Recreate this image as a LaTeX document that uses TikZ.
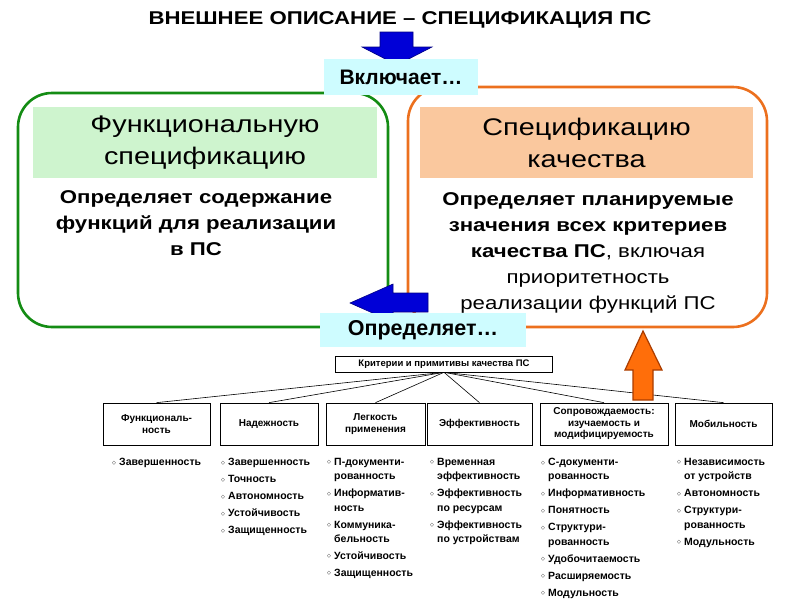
\documentclass[tikz,border=0pt]{standalone}
\usepackage{fontspec}
\setmainfont{Liberation Sans}
\newfontfamily\widefont{Liberation Sans}[FakeStretch=1.2]
\newfontfamily\symfont{DejaVu Sans}
\usetikzlibrary{positioning}

\definecolor{fgreen}{RGB}{20,140,20}
\definecolor{hgreen}{RGB}{206,244,206}
\definecolor{forange}{RGB}{236,112,30}
\definecolor{horange}{RGB}{250,200,158}
\definecolor{tagcyan}{RGB}{206,252,255}
\definecolor{arrblue}{RGB}{0,0,215}
\definecolor{arrblueline}{RGB}{0,0,130}
\definecolor{arrorange}{RGB}{255,110,10}
\definecolor{arrorangeline}{RGB}{170,60,0}

\tikzstyle{framebox} = [rectangle, rounded corners=34pt, line width=2.6pt, fill=white]
\tikzstyle{headbox}  = [rectangle, inner sep=0pt, align=center,
                        font=\widefont\fontsize{24}{32}\selectfont]
\tikzstyle{bodytext} = [align=center, inner sep=0pt, font=\widefont\fontsize{18.5}{26}\selectfont]
\tikzstyle{tagbox}   = [rectangle, fill=tagcyan, inner sep=0pt, font=\fontsize{21}{21}\selectfont\bfseries]
\tikzstyle{critbox}  = [rectangle, draw=black, line width=0.7pt, inner sep=0pt, align=center,
                        minimum height=42pt, font=\fontsize{10}{11.5}\selectfont\bfseries]
\tikzstyle{listcol}  = [anchor=north west, inner sep=0pt, align=left,
                        font=\fontsize{10.5}{14.3}\selectfont\bfseries]
\tikzstyle{link}     = [line width=0.6pt]

\newcommand{\bul}{\makebox[7pt][l]{\raisebox{1.5pt}{\symfont\fontsize{5}{5}\selectfont ◇}}}
\newcommand{\ind}{\hspace*{7pt}}

\begin{document}
\begin{tikzpicture}[x=1pt, y=-1pt]
    \useasboundingbox (0,0) rectangle (800,600);

    \node (title) [font=\widefont\fontsize{18.5}{18.5}\selectfont\bfseries] at (400,20) {ВНЕШНЕЕ ОПИСАНИЕ – СПЕЦИФИКАЦИЯ ПС};

    % two big frames
    \node (funcframe) [framebox, draw=fgreen, minimum width=370pt, minimum height=234pt] at (203,210) {};
    \node (qualframe) [framebox, draw=forange, minimum width=359pt, minimum height=240pt] at (587.5,207) {};

    \node (funchead) [headbox, fill=hgreen, minimum width=344pt, minimum height=71pt] at (205,142.5) {Функциональную\\спецификацию};
    \node (qualhead) [headbox, fill=horange, minimum width=333pt, minimum height=71pt] at (586.5,142.5) {Спецификацию\\качества};

    \node (functext) [bodytext, anchor=north] at (196,190) {\textbf{Определяет содержание}\\\textbf{функций для реализации}\\\textbf{в ПС}};
    \node (qualtext) [bodytext, anchor=north] at (588,192) {\textbf{Определяет планируемые}\\\textbf{значения всех критериев}\\\textbf{качества ПС}, включая\\приоритетность\\реализации функций ПС};

    % block arrows
    \filldraw[fill=arrblue, draw=arrblueline, line width=0.6pt]
        (380,32) -- (413,32) -- (413,47) -- (432,47) -- (397,65) -- (362,47) -- (380,47) -- cycle;
    \node (incl) [tagbox, minimum width=154pt, minimum height=36pt] at (401,77) {Включает…};
    \filldraw[fill=arrblue, draw=arrblueline, line width=0.6pt]
        (428,293) -- (393,293) -- (393,284) -- (350,303) -- (393,322) -- (393,312) -- (428,312) -- cycle;
    \node (defs) [tagbox, font=\fontsize{21.5}{21.5}\selectfont\bfseries, minimum width=206pt, minimum height=34pt] at (423,330) {Определяет…};

    % criteria tree
    \node (root) [critbox, minimum height=16pt, minimum width=217pt, line width=0.6pt,
                  font=\fontsize{9.5}{10}\selectfont\bfseries] at (444,364) {Критерии и примитивы качества ПС};

    \node (func)  [critbox, minimum width=107pt] at (156.5,424) {Функциональ-\\ность};
    \node (rel)   [critbox, minimum width=98pt]  at (269,424)   {Надежность};
    \node (usab)  [critbox, minimum width=99pt]  at (375.5,424) {Легкость\\применения};
    \node (eff)   [critbox, minimum width=105pt] at (479.5,424) {Эффективность};
    \node (maint) [critbox, minimum width=128pt] at (604,424)   {Сопровождаемость:\\изучаемость и\\модифицируемость};
    \node (port)  [critbox, minimum width=97pt]  at (723.5,424) {Мобильность};

    \foreach \c in {func, rel, usab, eff, maint, port}
        \draw[link] (root.south) -- (\c.north);

    \filldraw[fill=arrorange, draw=arrorangeline, line width=1.2pt]
        (633,400) -- (633,370) -- (625,370) -- (643,331) -- (662,370) -- (653,370) -- (653,400) -- cycle;

    % primitives under each criterion
    \node (funclist)  [listcol] at (112,458) {\bul Завершенность};
    \node (rellist)   [listcol] at (221,458) {\bul Завершенность\\[2.7pt]\bul Точность\\[2.7pt]\bul Автономность\\[2.7pt]\bul Устойчивость\\[2.7pt]\bul Защищенность};
    \node (usablist)  [listcol] at (327,458) {\bul П-документи-\\\ind рованность\\[2.7pt]\bul Информатив-\\\ind ность\\[2.7pt]\bul Коммуника-\\\ind бельность\\[2.7pt]\bul Устойчивость\\[2.7pt]\bul Защищенность};
    \node (efflist)   [listcol] at (430,458) {\bul Временная\\\ind эффективность\\[2.7pt]\bul Эффективность\\\ind по ресурсам\\[2.7pt]\bul Эффективность\\\ind по устройствам};
    \node (maintlist) [listcol] at (541,458) {\bul С-документи-\\\ind рованность\\[2.7pt]\bul Информативность\\[2.7pt]\bul Понятность\\[2.7pt]\bul Структури-\\\ind рованность\\[2.7pt]\bul Удобочитаемость\\[2.7pt]\bul Расширяемость\\[2.7pt]\bul Модульность};
    \node (portlist)  [listcol] at (677,458) {\bul Независимость\\\ind от устройств\\[2.7pt]\bul Автономность\\[2.7pt]\bul Структури-\\\ind рованность\\[2.7pt]\bul Модульность};
\end{tikzpicture}
\end{document}
